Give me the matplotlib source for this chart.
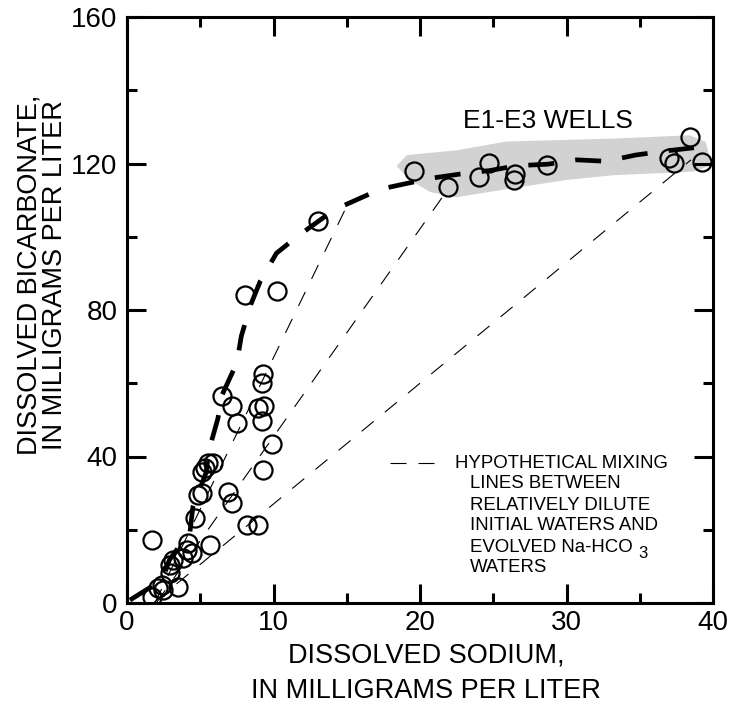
import numpy as np
import matplotlib
matplotlib.use('Agg')
import matplotlib.pyplot as plt
from matplotlib.patches import Polygon

plt.rcParams['font.family'] = ['Liberation Sans', 'DejaVu Sans']

# sample points (sodium, bicarbonate), mg/L
sodium = [1.68, 2.14, 2.37, 2.48, 3.5, 2.94, 2.94, 3.16, 3.84, 4.07, 4.19, 4.41,
          5.67, 1.68, 4.64, 4.87, 5.1, 6.92, 7.15, 8.17, 8.92, 5.1, 5.32, 5.55,
          5.89, 9.31, 9.88, 7.49, 7.15, 6.46, 8.96, 9.35, 9.19, 9.19, 9.31, 8.05,
          10.22, 13.06]
bicarb = [1.7, 4.0, 4.9, 3.6, 4.3, 8.1, 10.4, 11.8, 12.2, 14.5, 16.3, 13.6,
          15.9, 17.2, 23.2, 29.5, 30.0, 30.4, 27.4, 21.3, 21.3, 35.9, 36.8, 38.2,
          38.2, 36.4, 43.5, 49.1, 53.7, 56.4, 53.3, 53.7, 49.6, 60.1, 62.4, 84.2,
          85.1, 104.3]

# E1-E3 wells
wells_na = [19.6, 21.93, 24.05, 24.73, 26.48, 26.44, 28.65, 37.02, 37.34, 38.43, 39.23]
wells_hco3 = [118.0, 113.7, 116.4, 120.1, 117.1, 115.4, 119.5, 121.6, 120.1, 127.1, 120.4]

# shaded envelope around the wells
band_na = [18.4, 19.1, 22.5, 25.9, 33.2, 38.4, 39.5, 39.9, 38.7, 33.2, 30.0, 25.9, 22.5, 20.7, 19.3]
band_hco3 = [119.3, 122.3, 123.6, 126.0, 126.8, 127.7, 125.9, 119.6, 117.8, 116.8, 115.5, 113.0, 110.8, 112.2, 115.5]

# evolution trend (heavy dashed curve)
trend_na = [0.2, 2.4, 2.9, 4.3, 4.5, 5.4, 5.6, 6.2, 6.5, 7.5, 7.8, 8.4, 9.1,
            10.2, 11.6, 13.4, 14.5, 17.3, 18.8, 20.8, 22.7, 24.8, 26.6, 28.7,
            30.7, 32.7, 34.7, 36.7, 38.7]
trend_hco3 = [0.8, 6.3, 11.8, 19.5, 26.3, 35.6, 41.8, 50.3, 56.9, 65.6, 72.8, 81.0, 87.9,
              95.5, 100.0, 105.2, 108.0, 113.0, 114.3, 116.0, 117.1, 118.1, 119.4, 119.8,
              121.0, 120.6, 122.3, 123.4, 124.3]

# hypothetical mixing lines: (start, end)
mix_na = [(1.9, 15.2), (2.0, 22.0), (1.8, 38.5)]
mix_hco3 = [(0.0, 110.0), (0.0, 113.5), (0.0, 121.0)]

legend_lines = ['LINES BETWEEN', 'RELATIVELY DILUTE', 'INITIAL WATERS AND',
                'EVOLVED Na-HCO', 'WATERS']


def px(x, y):
    # reference pixel position -> axes fraction
    return (x - 127) / 586, (603 - y) / 586


fig = plt.figure(figsize=(7.29, 7.05), dpi=100)
ax = fig.add_axes([127 / 729, 1 - 603 / 705, 586 / 729, 586 / 705])

ax.add_patch(Polygon(np.column_stack([band_na, band_hco3]), closed=True,
                     facecolor='#d2d2d2', edgecolor='none', zorder=1))

for xs, ys in zip(mix_na, mix_hco3):
    ax.plot(xs, ys, color='black', lw=0.8, dashes=(14, 13), zorder=2)

ax.plot(trend_na, trend_hco3, color='black', lw=3.4, dashes=(5.5, 4.5), zorder=3)

ax.plot(sodium, bicarb, 'o', mfc='none', mec='black', ms=13, mew=1.6, zorder=4)
ax.plot(wells_na, wells_hco3, 'o', mfc='none', mec='black', ms=13, mew=1.6, zorder=4)

ax.set_xlim(0, 40)
ax.set_ylim(0, 160)
ax.set_xticks([0, 10, 20, 30, 40])
ax.set_yticks([0, 40, 80, 120, 160])
ax.set_xticks([5, 15, 25, 35], minor=True)
ax.set_yticks([20, 60, 100, 140], minor=True)
ax.tick_params(which='both', direction='in', top=True, right=True, width=2.2,
               labelsize=20)
ax.tick_params(which='major', length=14)
ax.tick_params(which='minor', length=7)
ax.tick_params(axis='x', pad=5)
ax.tick_params(axis='y', pad=7)
for s in ax.spines.values():
    s.set_linewidth(2.2)

ax.set_xlabel('DISSOLVED SODIUM,\nIN MILLIGRAMS PER LITER', fontsize=19.5,
              linespacing=1.45)
ax.xaxis.set_label_coords(0.51, -0.068)
ax.set_ylabel('DISSOLVED BICARBONATE,\nIN MILLIGRAMS PER LITER', fontsize=19.5,
              linespacing=1.0)
ax.yaxis.set_label_coords(-0.1, 0.56)

ax.text(*px(463, 121), 'E1-E3 WELLS', transform=ax.transAxes, fontsize=19,
        va='center', ha='left')

# legend for mixing lines
x0, y0 = px(390, 463)
x1, _ = px(445, 463)
ax.plot([x0, x1], [y0, y0], transform=ax.transAxes, color='black', lw=0.8,
        dashes=(14.4, 10.8))
ax.text(*px(455, 463), 'HYPOTHETICAL MIXING', transform=ax.transAxes,
        fontsize=13.4, va='center', ha='left')
for i, line in enumerate(legend_lines):
    t = ax.text(*px(470, 484 + 21 * i), line, transform=ax.transAxes,
                fontsize=13.4, va='center', ha='left')
    if line.endswith('HCO'):
        ax.annotate('3', xy=(1, 0), xycoords=t, xytext=(4, -4),
                    textcoords='offset points', fontsize=12, va='bottom',
                    ha='left')

fig.savefig('out.png', dpi=100)
